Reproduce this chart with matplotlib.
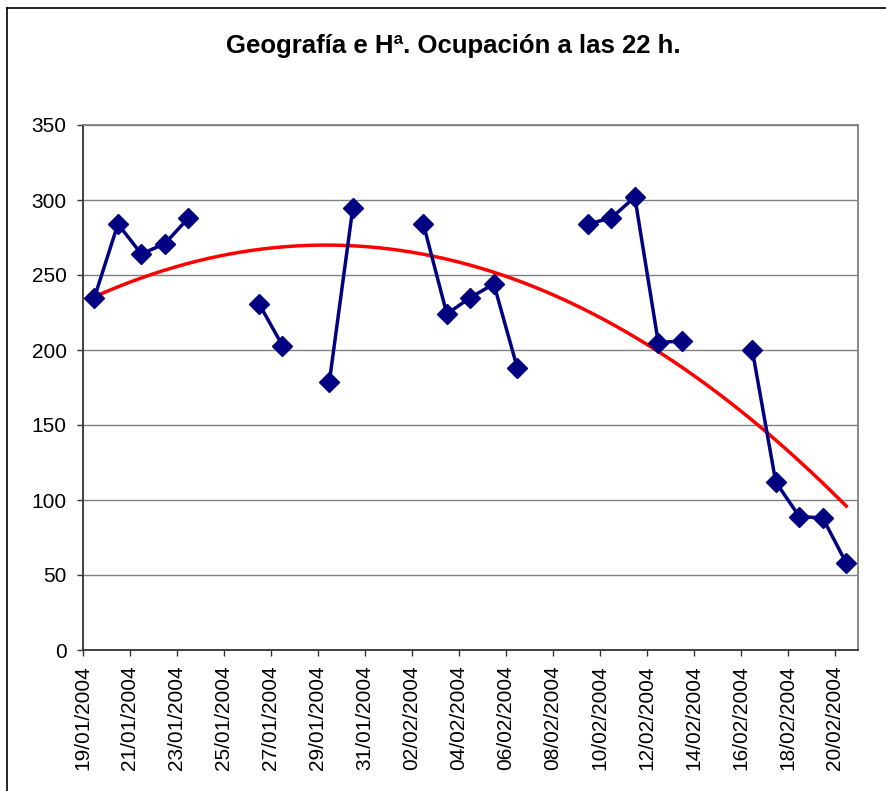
import numpy as np
import matplotlib
matplotlib.use("Agg")
import matplotlib.pyplot as plt
import matplotlib.dates as mdates
from matplotlib.lines import Line2D
import datetime as dt

plt.rcParams['font.family'] = ['Liberation Sans', 'DejaVu Sans']

title = "Geografía e Hª. Ocupación a las 22 h."
start_date = "19/01/2004"
end_date = "21/02/2004"
# one value per day from 19/01/2004 to 20/02/2004 (NaN = no data)
values = [235, 284, 264, 271, 288, np.nan, np.nan,
          231, 203, np.nan, 179, 295, np.nan, np.nan,
          284, 224, 235, 244, 188, np.nan, np.nan,
          284, 288, 302, 205, 206, np.nan, np.nan,
          200, 112, 89, 88, 58]
y_ticks = [0, 50, 100, 150, 200, 250, 300, 350]

d0 = dt.datetime.strptime(start_date, "%d/%m/%Y")
d1 = dt.datetime.strptime(end_date, "%d/%m/%Y")
dates = [d0 + dt.timedelta(days=i) for i in range(len(values))]
vals = np.array(values, dtype=float)
x = mdates.date2num(dates) + 0.5  # Excel places points in the middle of each day slot

fig = plt.figure(figsize=(8.86, 7.91), dpi=100)
ax = fig.add_axes([82.7/886, 141/791, 775.3/886, 525/791])

# polynomial (order 2) trend line
mask = ~np.isnan(vals)
coef = np.polyfit(x[mask], vals[mask], 2)
xt = np.linspace(x[mask][0], x[mask][-1], 200)
ax.plot(xt, np.polyval(coef, xt), color='#FF0000', lw=2.5, zorder=3)

ax.plot(x, vals, color='#000080', lw=2.5, marker='D', ms=10.5,
        mec='#000080', mfc='#000080', mew=1, zorder=4)

ax.set_xlim(mdates.date2num(d0), mdates.date2num(d1))
ax.set_ylim(0, 350)
ax.set_yticks(y_ticks)
ax.set_xticks(mdates.date2num(dates[::2]))
ax.xaxis.set_major_formatter(mdates.DateFormatter('%d/%m/%Y'))
for lab in ax.get_xticklabels():
    lab.set_rotation(90)

ax.grid(axis='y', color='#808080', lw=1.0)
ax.set_axisbelow(True)
ax.tick_params(axis='both', labelsize=15, direction='out', length=4.5,
               width=1, color='#333333')
ax.tick_params(axis='y', pad=7)
ax.tick_params(axis='x', pad=6.5)
for s in ['left', 'bottom']:
    ax.spines[s].set_color('#333333')
    ax.spines[s].set_linewidth(1.3)
for s in ['top', 'right']:
    ax.spines[s].set_color('#808080')
    ax.spines[s].set_linewidth(1.3)

fig.text(453/886, 1 - 53/791, title, ha='center', va='baseline',
         fontsize=18.5, fontweight='bold')

# chart area border (left and top edges visible)
fig.add_artist(Line2D([7/886, 7/886], [0, 1 - 8/791], transform=fig.transFigure,
                      color='black', lw=1.2))
fig.add_artist(Line2D([7/886, 1], [1 - 8/791, 1 - 8/791], transform=fig.transFigure,
                      color='black', lw=1.2))

fig.savefig("out.png", dpi=100)
